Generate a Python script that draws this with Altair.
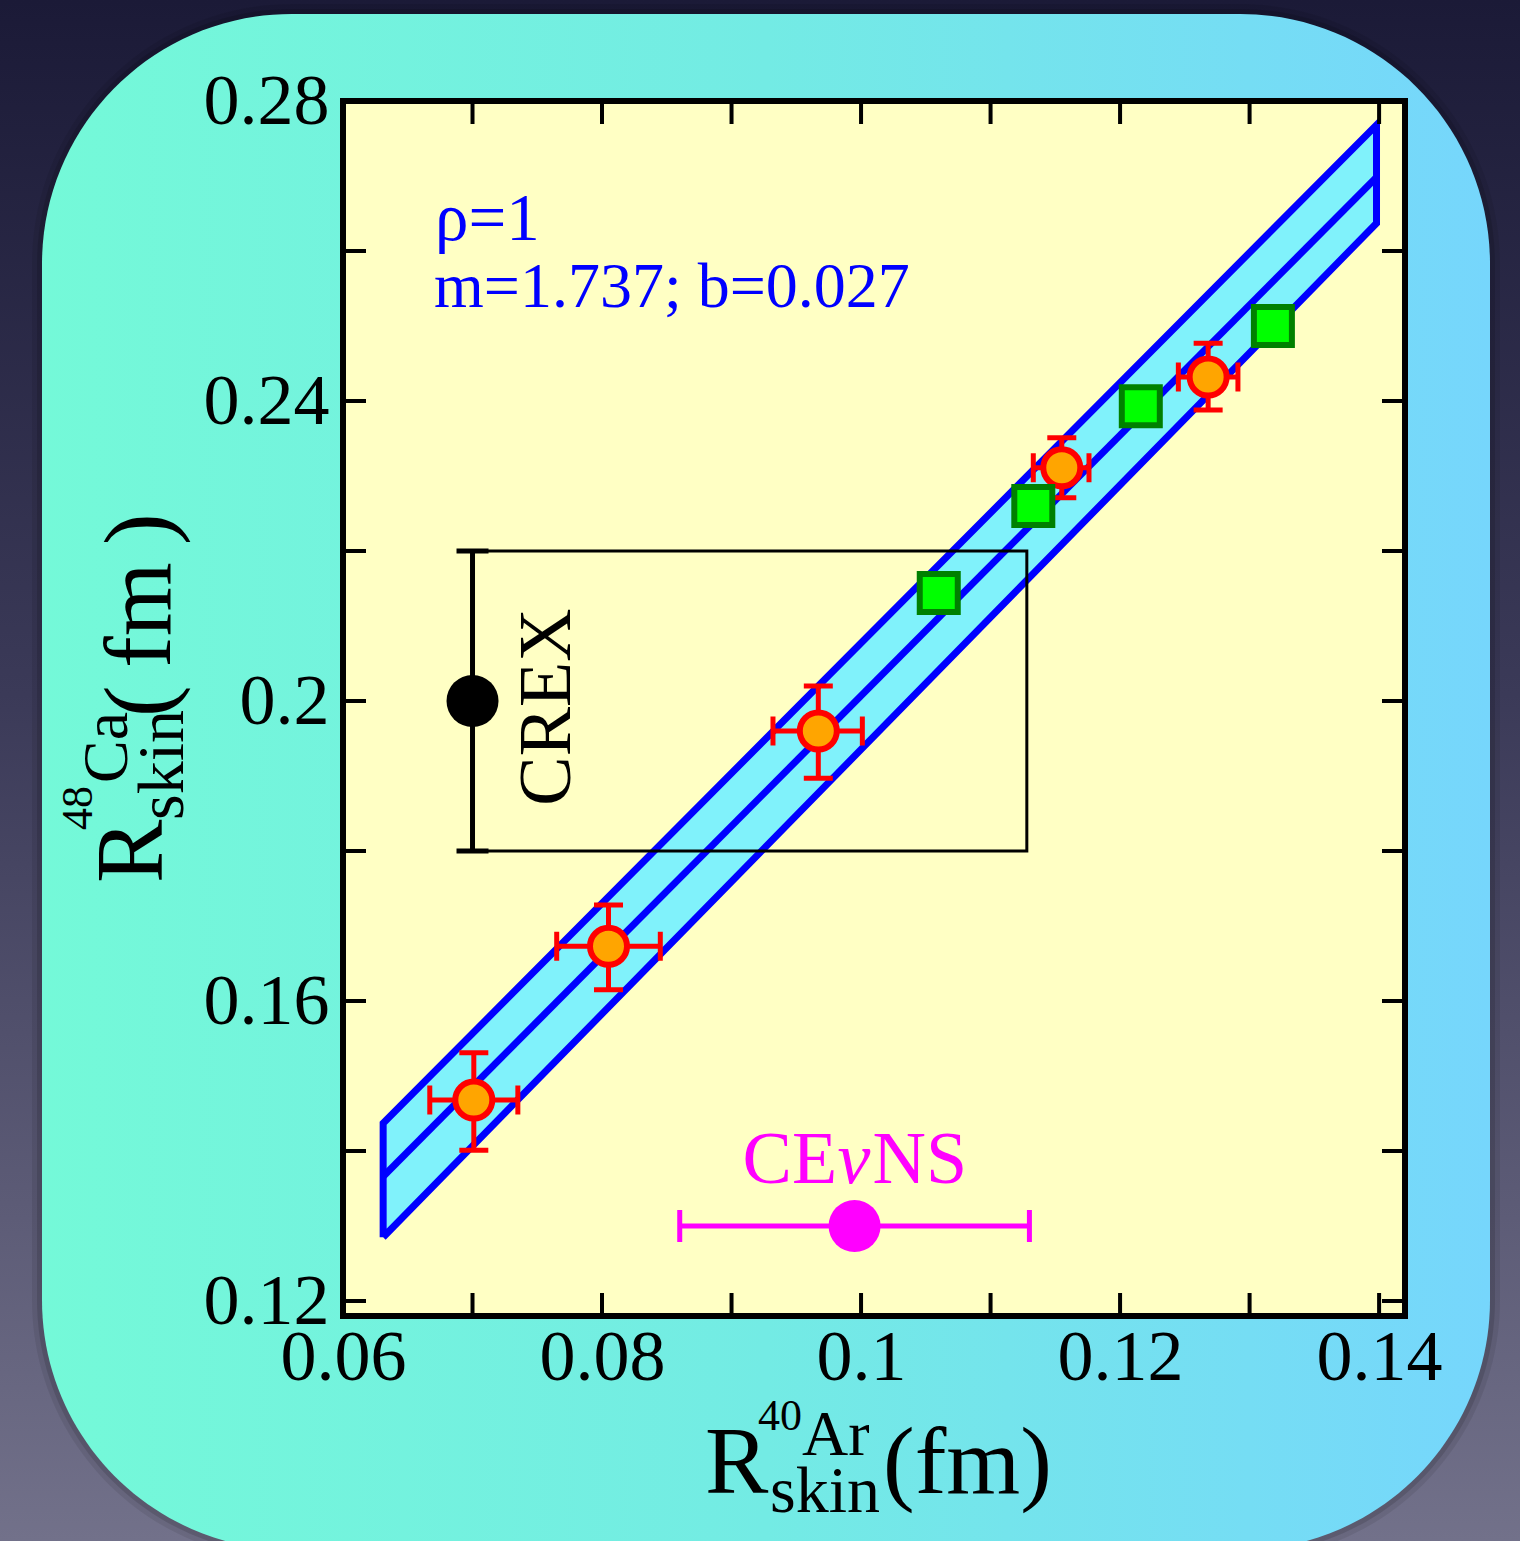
import altair as alt
import pandas as pd

# ---------------------------------------------------------------- layout
W, H = 1062, 1215                      # plot area
PAD = {"left": 343, "top": 101, "right": 115, "bottom": 225}
FONT = "Liberation Serif"

X_DOMAIN = [0.06, 0.142]
Y_DOMAIN = [0.118, 0.28]

# ---------------------------------------------------------------- data
# model predictions with uncertainties (orange points)
model_x = [0.0701, 0.0805, 0.0967, 0.1155, 0.1268]
model_y = [0.1468, 0.1673, 0.1960, 0.2311, 0.2432]
model_x_lo = [0.0667, 0.0765, 0.0932, 0.1133, 0.1245]
model_x_hi = [0.0735, 0.0845, 0.1001, 0.1176, 0.1291]
model_y_lo = [0.1401, 0.1615, 0.1897, 0.2271, 0.2388]
model_y_hi = [0.1531, 0.1728, 0.2020, 0.2351, 0.2477]

# second model set (green squares)
sq_x = [0.1060, 0.1133, 0.1216, 0.1318]
sq_y = [0.2144, 0.2260, 0.2393, 0.2500]

# linear fit and its band
fit_m, fit_b = 1.737, 0.027
band_x = [0.0631, 0.1398]
band_upper = [0.1437, 0.2768]
band_lower = [0.1285, 0.2637]

# experiments
crex_x, crex_y, crex_lo, crex_hi, crex_box_right = 0.07, 0.20, 0.18, 0.22, 0.1128
cevns_x, cevns_y, cevns_lo, cevns_hi = 0.0995, 0.13, 0.086, 0.113

# axes
x_labels = [0.06, 0.08, 0.10, 0.12, 0.14]
y_labels = [0.12, 0.16, 0.20, 0.24, 0.28]
x_ticks = [0.06, 0.07, 0.08, 0.09, 0.10, 0.11, 0.12, 0.13, 0.14]
y_ticks = [0.12, 0.14, 0.16, 0.18, 0.20, 0.22, 0.24, 0.26, 0.28]

# ---------------------------------------------------------------- helpers
xs = alt.Scale(domain=X_DOMAIN, nice=False, zero=False)
ys = alt.Scale(domain=Y_DOMAIN, nice=False, zero=False)
x_axis = alt.Axis(values=x_labels, format=".2~f", title=None, ticks=False, domain=False,
                  grid=False, labelFont=FONT, labelFontSize=72, labelColor="black",
                  labelPadding=6, labelFlush=False, labelOverlap=False, zindex=1)
y_axis = alt.Axis(values=y_labels, format=".2~f", title=None, ticks=False, domain=False,
                  grid=False, labelFont=FONT, labelFontSize=72, labelColor="black",
                  labelPadding=14, labelFlush=False, labelOverlap=False, zindex=1)


def X(field):
    return alt.X(field, type="quantitative", scale=xs, axis=x_axis)


def Y(field):
    return alt.Y(field, type="quantitative", scale=ys, axis=y_axis)


one = pd.DataFrame({"k": [0]})

# ---------------------------------------------------------------- backdrop
outer = alt.Chart(one).mark_rect(
    fill=alt.Gradient(gradient="linear", x1=0, x2=0, y1=0, y2=1,
                      stops=[alt.GradientStop(color="#1b1a37", offset=0),
                             alt.GradientStop(color="#3b3a58", offset=0.45),
                             alt.GradientStop(color="#72718a", offset=1)])
).encode(x=alt.value(-PAD["left"]), x2=alt.value(W + PAD["right"]),
         y=alt.value(-PAD["top"]), y2=alt.value(H + PAD["bottom"]))

# rounded panel behind the plot, with a soft dark rim around it
P_L, P_R, P_T, P_B, P_RAD = 42, 1490, 14, 1550, 250
shadows = [
    alt.Chart(one).mark_rect(cornerRadius=P_RAD + e, fill="black", opacity=op).encode(
        x=alt.value(P_L - PAD["left"] - e), x2=alt.value(P_R - PAD["left"] + e),
        y=alt.value(P_T - PAD["top"] - e), y2=alt.value(P_B - PAD["top"] + e))
    for e, op in [(10, 0.08), (5, 0.12)]
]

panel = alt.Chart(one).mark_rect(
    cornerRadius=P_RAD,
    fill=alt.Gradient(gradient="linear", x1=0, x2=1, y1=0, y2=0,
                      stops=[alt.GradientStop(color="#74f9d8", offset=0),
                             alt.GradientStop(color="#73ebe4", offset=0.5),
                             alt.GradientStop(color="#76d6fc", offset=1)])
).encode(x=alt.value(P_L - PAD["left"]), x2=alt.value(P_R - PAD["left"]),
         y=alt.value(P_T - PAD["top"]), y2=alt.value(P_B - PAD["top"]))

plot_bg = alt.Chart(one).mark_rect(fill="#ffffc4").encode(
    x=alt.value(0), x2=alt.value(W), y=alt.value(0), y2=alt.value(H))

# ---------------------------------------------------------------- fit band
band_df = pd.DataFrame({"x": band_x, "lo": band_lower, "hi": band_upper,
                        "mid": [fit_m * v + fit_b for v in band_x]})
band_fill = alt.Chart(band_df).mark_area(color="#80f2fb", opacity=1).encode(
    x=X("x"), y=Y("lo"), y2="hi")

outline_df = pd.DataFrame({
    "x": [band_x[0], band_x[1], band_x[1], band_x[0], band_x[0]],
    "y": [band_lower[0], band_lower[1], band_upper[1], band_upper[0], band_lower[0]],
    "o": [0, 1, 2, 3, 4],
})
band_outline = alt.Chart(outline_df).mark_line(
    color="#0000ff", strokeWidth=7, strokeJoin="miter").encode(
    x=X("x"), y=Y("y"), order="o")
band_mid = alt.Chart(band_df).mark_line(color="#0000ff", strokeWidth=7).encode(
    x=X("x"), y=Y("mid"))

# ---------------------------------------------------------------- CREX
crex_df = pd.DataFrame({"x": [crex_x], "y": [crex_y], "lo": [crex_lo], "hi": [crex_hi],
                        "x2": [crex_box_right]})
crex_box = alt.Chart(crex_df).mark_rect(fillOpacity=0, stroke="black", strokeWidth=3).encode(
    x=X("x"), x2="x2", y=Y("lo"), y2="hi")
crex_bar = alt.Chart(crex_df).mark_rule(color="black", strokeWidth=5).encode(
    x=X("x"), y=Y("lo"), y2="hi")
crex_cap_lo = alt.Chart(crex_df).mark_point(shape="M-1,0H1", size=32 ** 2, stroke="black",
                                            strokeWidth=5, opacity=1).encode(x=X("x"), y=Y("lo"))
crex_cap_hi = alt.Chart(crex_df).mark_point(shape="M-1,0H1", size=32 ** 2, stroke="black",
                                            strokeWidth=5, opacity=1).encode(x=X("x"), y=Y("hi"))
crex_pt = alt.Chart(crex_df).mark_point(shape="circle", size=52 ** 2, fill="black",
                                        stroke="black", strokeWidth=0, opacity=1,
                                        fillOpacity=1).encode(x=X("x"), y=Y("y"))
crex_txt = alt.Chart(pd.DataFrame({"x": [0.0775], "y": [0.1992]})).mark_text(
    text="CREX", font=FONT, fontSize=74, angle=270, align="center",
    baseline="alphabetic", color="black").encode(x=X("x"), y=Y("y"))

# ---------------------------------------------------------------- CEvNS
cev_df = pd.DataFrame({"x": [cevns_x], "y": [cevns_y], "lo": [cevns_lo], "hi": [cevns_hi]})
cev_bar = alt.Chart(cev_df).mark_rule(color="#ff00ff", strokeWidth=5).encode(
    x=X("lo"), x2="hi", y=Y("y"))
cev_cap_lo = alt.Chart(cev_df).mark_point(shape="M0,-1V1", size=32 ** 2, stroke="#ff00ff",
                                          strokeWidth=5, opacity=1).encode(x=X("lo"), y=Y("y"))
cev_cap_hi = alt.Chart(cev_df).mark_point(shape="M0,-1V1", size=32 ** 2, stroke="#ff00ff",
                                          strokeWidth=5, opacity=1).encode(x=X("hi"), y=Y("y"))
cev_pt = alt.Chart(cev_df).mark_point(shape="circle", size=52 ** 2, fill="#ff00ff",
                                      strokeWidth=0, opacity=1, fillOpacity=1).encode(
    x=X("x"), y=Y("y"))

cev_label_pos = pd.DataFrame({"x": [cevns_x], "y": [0.1357]})


def cev_piece(txt, dx, italic=False):
    return alt.Chart(cev_label_pos).mark_text(
        text=txt, font=FONT, fontSize=74, fontStyle="italic" if italic else "normal",
        align="left", baseline="alphabetic", color="#ff00ff", dx=dx).encode(
        x=X("x"), y=Y("y"))


cev_label = [cev_piece("CE", -112), cev_piece("ν", -17, italic=True), cev_piece("NS", 18)]

# ---------------------------------------------------------------- models
model_df = pd.DataFrame({"x": model_x, "y": model_y, "xlo": model_x_lo, "xhi": model_x_hi,
                         "ylo": model_y_lo, "yhi": model_y_hi})
RED = "#ff0000"
m_vbar = alt.Chart(model_df).mark_rule(color=RED, strokeWidth=5).encode(
    x=X("x"), y=Y("ylo"), y2="yhi")
m_hbar = alt.Chart(model_df).mark_rule(color=RED, strokeWidth=5).encode(
    x=X("xlo"), x2="xhi", y=Y("y"))
m_caps = [
    alt.Chart(model_df).mark_point(shape="M-1,0H1", size=29 ** 2, stroke=RED,
                                   strokeWidth=5, opacity=1).encode(x=X("x"), y=Y(f))
    for f in ("ylo", "yhi")
] + [
    alt.Chart(model_df).mark_point(shape="M0,-1V1", size=29 ** 2, stroke=RED,
                                   strokeWidth=5, opacity=1).encode(x=X(f), y=Y("y"))
    for f in ("xlo", "xhi")
]
m_pts = alt.Chart(model_df).mark_point(shape="circle", size=37 ** 2, fill="#ffa500",
                                       stroke=RED, strokeWidth=6, opacity=1,
                                       fillOpacity=1).encode(x=X("x"), y=Y("y"))

sq_df = pd.DataFrame({"x": sq_x, "y": sq_y})
squares = alt.Chart(sq_df).mark_point(shape="square", size=38 ** 2, fill="#00ff00",
                                      stroke="#008000", strokeWidth=6, opacity=1,
                                      fillOpacity=1).encode(x=X("x"), y=Y("y"))

# ---------------------------------------------------------------- frame & ticks
TL = 23
xt = pd.DataFrame({"v": x_ticks})
yt = pd.DataFrame({"v": y_ticks})
ticks = [
    alt.Chart(xt).mark_rule(color="black", strokeWidth=4).encode(
        x=X("v"), y=alt.value(H), y2=alt.value(H - TL)),
    alt.Chart(xt).mark_rule(color="black", strokeWidth=4).encode(
        x=X("v"), y=alt.value(0), y2=alt.value(TL)),
    alt.Chart(yt).mark_rule(color="black", strokeWidth=4).encode(
        y=Y("v"), x=alt.value(0), x2=alt.value(TL)),
    alt.Chart(yt).mark_rule(color="black", strokeWidth=4).encode(
        y=Y("v"), x=alt.value(W), x2=alt.value(W - TL)),
]
frame = alt.Chart(one).mark_rect(fillOpacity=0, stroke="black", strokeWidth=6).encode(
    x=alt.value(0), x2=alt.value(W), y=alt.value(0), y2=alt.value(H))

# ---------------------------------------------------------------- text
def txt(s, x, y, size, color="black", angle=0):
    return alt.Chart(one).mark_text(
        text=s, font=FONT, fontSize=size, align="left", baseline="alphabetic",
        color=color, angle=angle).encode(x=alt.value(x), y=alt.value(y))


fit_text = [
    txt("ρ=1", 92, 139, 67, color="#0000ff"),
    txt(f"m={fit_m}; b={fit_b}", 91, 206, 64, color="#0000ff"),
]

x_title = [
    txt("R", 362, 1392, 95),
    txt("skin", 427, 1411, 66),
    txt("40", 415, 1329, 44),
    txt("Ar", 459, 1354, 64),
    txt("(fm)", 540, 1392, 95),
]
y_title = [
    txt("R", -181, 782, 95, angle=270),
    txt("skin", -160, 719, 66, angle=270),
    txt("48", -251, 729, 44, angle=270),
    txt("Ca", -216, 682, 64, angle=270),
    txt("(", -173, 616, 95, angle=270),
    txt("fm", -173, 567, 95, angle=270),
    txt(")", -173, 444, 95, angle=270),
]

layers = ([outer] + shadows + [panel, plot_bg, band_fill, band_outline, band_mid,
                               crex_box, crex_bar, crex_cap_lo, crex_cap_hi, crex_pt, crex_txt,
                               cev_bar, cev_cap_lo, cev_cap_hi, cev_pt] + cev_label
          + [m_vbar, m_hbar] + m_caps + [m_pts, squares] + ticks + [frame]
          + fit_text + x_title + y_title)

chart = alt.layer(*layers).properties(
    width=W, height=H,
    autosize=alt.AutoSizeParams(type="none"),
    padding=PAD,
    background="#1b1a37",
).configure_view(stroke=None)

chart.save("out.html", embed_options={"renderer": "svg", "actions": False})
